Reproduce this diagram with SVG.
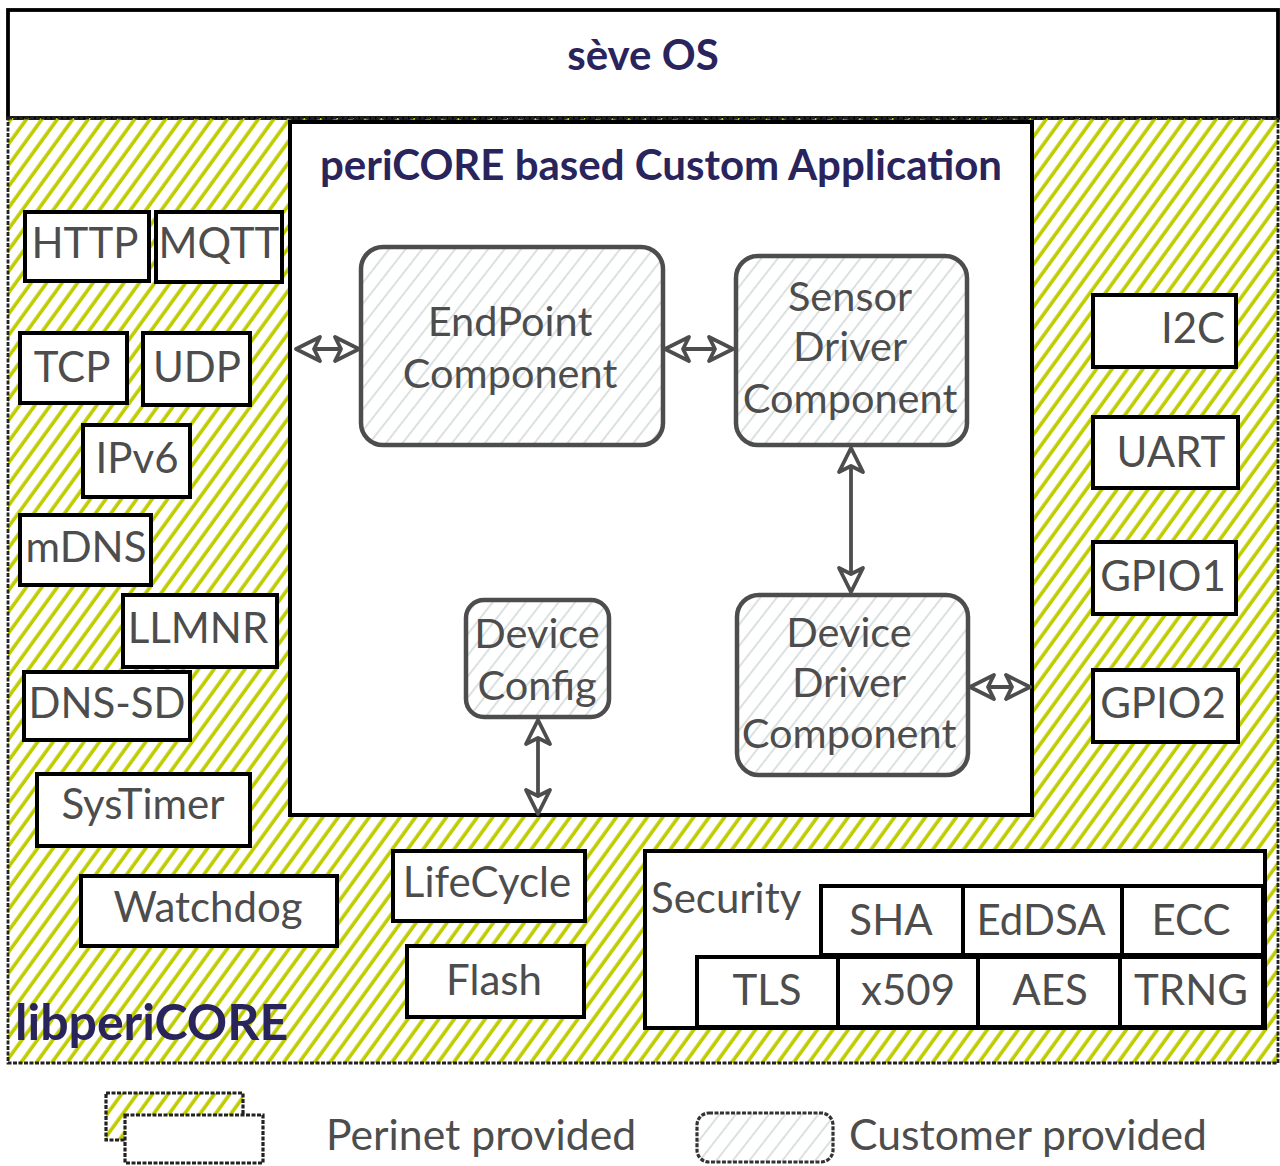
<svg xmlns="http://www.w3.org/2000/svg" width="1280" height="1166" viewBox="0 0 1280 1166">
<defs>
<pattern id="green" patternUnits="userSpaceOnUse" width="12.5" height="40" patternTransform="rotate(36)">
<line x1="4" y1="0" x2="4" y2="40" stroke="#bfcd00" stroke-width="3.6"/>
</pattern>
<pattern id="gray" patternUnits="userSpaceOnUse" width="13" height="40" patternTransform="rotate(38)">
<line x1="5" y1="0" x2="5" y2="40" stroke="#d5dcdc" stroke-width="1.7"/>
</pattern>
<marker id="ah" markerUnits="userSpaceOnUse" markerWidth="30" markerHeight="30" viewBox="0 0 30 30" refX="27" refY="15" orient="auto-start-reverse">
<path d="M3,3 L27,15 L3,27 L9,15 Z" fill="#fff" stroke="#4d4d4d" stroke-width="3.8" stroke-linejoin="round"/>
</marker>
<style>
.pb{fill:#fff;stroke:#000;stroke-width:4}
.cb{fill:url(#gray);stroke:#4d4d4d;stroke-width:4.5}
.lbl{font-family:Lato,"Liberation Sans",sans-serif;font-size:42px;fill:#4d4d4d;text-anchor:middle}
.cl{font-family:Lato,"Liberation Sans",sans-serif;font-size:41.5px;fill:#4d4d4d;text-anchor:middle}
.leg{font-family:Lato,"Liberation Sans",sans-serif;font-size:42.7px;fill:#4d4d4d}
.ttl{font-family:Lato,"Liberation Sans",sans-serif;font-weight:bold;fill:#2a245c}
.con{fill:none;stroke:#4d4d4d;stroke-width:3.8;marker-start:url(#ah);marker-end:url(#ah)}
</style>
</defs>
<rect width="1280" height="1166" fill="#fff"/>

<g id="seveos">
<rect x="8" y="10" width="1270" height="108" fill="#fff" stroke="#000" stroke-width="3.8"/>
<text class="ttl" x="643" y="70" font-size="42" text-anchor="middle">sève OS</text>
</g>

<g id="libpericore">
<rect x="8" y="118" width="1270" height="945" fill="url(#green)" stroke="#222" stroke-width="2.8" stroke-dasharray="4 1.5"/>
<text class="ttl" x="15" y="1040" font-size="50">libperiCORE</text>
</g>

<g id="app">
<rect x="290" y="122" width="742" height="693" fill="#fff" stroke="#000" stroke-width="4"/>
<text class="ttl" x="320" y="180" font-size="42">periCORE based Custom Application</text>
</g>

<g id="http"><rect class="pb" x="25" y="212" width="124" height="69"/><text class="lbl" x="85" y="258">HTTP</text></g>
<g id="mqtt"><rect class="pb" x="156" y="212" width="126" height="70"/><text class="lbl" x="219" y="258">MQTT</text></g>
<g id="tcp"><rect class="pb" x="20" y="333" width="107" height="70"/><text class="lbl" x="72" y="382">TCP</text></g>
<g id="udp"><rect class="pb" x="143" y="333" width="107" height="72"/><text class="lbl" x="197" y="382">UDP</text></g>
<g id="ipv6"><rect class="pb" x="83" y="425" width="107" height="72"/><text class="lbl" x="137" y="473">IPv6</text></g>
<g id="mdns"><rect class="pb" x="20" y="515" width="131" height="70"/><text class="lbl" x="86" y="562">mDNS</text></g>
<g id="llmnr"><rect class="pb" x="123" y="595" width="154" height="72"/><text class="lbl" x="198" y="643">LLMNR</text></g>
<g id="dnssd"><rect class="pb" x="24" y="672" width="166" height="68"/><text class="lbl" x="107" y="718">DNS-SD</text></g>
<g id="systimer"><rect class="pb" x="37" y="774" width="213" height="72"/><text class="lbl" x="143" y="819">SysTimer</text></g>
<g id="watchdog"><rect class="pb" x="81" y="876" width="256" height="70"/><text class="lbl" x="208" y="922">Watchdog</text></g>
<g id="lifecycle"><rect class="pb" x="393" y="851" width="192" height="70"/><text class="lbl" x="487" y="897">LifeCycle</text></g>
<g id="flash"><rect class="pb" x="407" y="946" width="177" height="71"/><text class="lbl" x="494" y="995">Flash</text></g>

<g id="security">
<rect class="pb" x="645" y="851" width="620" height="177"/>
<text class="lbl" x="651" y="913" style="text-anchor:start">Security</text>
</g>
<g id="sha"><rect class="pb" x="821" y="886" width="142" height="69"/><text class="lbl" x="891" y="935">SHA</text></g>
<g id="eddsa"><rect class="pb" x="963" y="886" width="159" height="69"/><text class="lbl" x="1041" y="935">EdDSA</text></g>
<g id="ecc"><rect class="pb" x="1122" y="886" width="141" height="69"/><text class="lbl" x="1191" y="935">ECC</text></g>
<g id="tls"><rect class="pb" x="697" y="957" width="141" height="70"/><text class="lbl" x="767" y="1005">TLS</text></g>
<g id="x509"><rect class="pb" x="838" y="957" width="140" height="70"/><text class="lbl" x="908" y="1005">x509</text></g>
<g id="aes"><rect class="pb" x="978" y="957" width="142" height="70"/><text class="lbl" x="1050" y="1005">AES</text></g>
<g id="trng"><rect class="pb" x="1120" y="957" width="143" height="70"/><text class="lbl" x="1191" y="1005">TRNG</text></g>

<g id="i2c"><rect class="pb" x="1093" y="295" width="143" height="72"/><text class="lbl" x="1193" y="343">I2C</text></g>
<g id="uart"><rect class="pb" x="1093" y="417" width="145" height="71"/><text class="lbl" x="1171" y="467">UART</text></g>
<g id="gpio1"><rect class="pb" x="1093" y="542" width="143" height="72"/><text class="lbl" x="1163" y="591">GPIO1</text></g>
<g id="gpio2"><rect class="pb" x="1093" y="670" width="145" height="72"/><text class="lbl" x="1163" y="718">GPIO2</text></g>

<g id="endpoint">
<rect class="cb" x="361" y="247" width="302" height="198" rx="22"/>
<text class="cl" x="510" y="336">EndPoint</text>
<text class="cl" x="510" y="388">Component</text>
</g>
<g id="sensor">
<rect class="cb" x="736" y="256" width="231" height="189" rx="22"/>
<text class="cl" x="850" y="311">Sensor</text>
<text class="cl" x="850" y="361">Driver</text>
<text class="cl" x="850" y="413">Component</text>
</g>
<g id="devdriver">
<rect class="cb" x="737" y="595" width="231" height="180" rx="22"/>
<text class="cl" x="849" y="647">Device</text>
<text class="cl" x="849" y="697">Driver</text>
<text class="cl" x="849" y="748">Component</text>
</g>
<g id="devconfig">
<rect class="cb" x="466" y="600" width="143" height="117" rx="18"/>
<text class="cl" x="537" y="648">Device</text>
<text class="cl" x="537" y="700">Config</text>
</g>

<g id="connectors">
<line class="con" x1="296" y1="349" x2="359" y2="349"/>
<line class="con" x1="665" y1="349" x2="733" y2="349"/>
<line class="con" x1="851" y1="448" x2="851" y2="592"/>
<line class="con" x1="970" y1="687" x2="1030" y2="687"/>
<line class="con" x1="538" y1="720" x2="538" y2="814"/>
</g>

<g id="legend">
<rect x="106" y="1093" width="137" height="47" fill="url(#green)" stroke="#222" stroke-width="3.2" stroke-dasharray="4 1.5"/>
<rect x="125" y="1115" width="138" height="48" fill="#fff" stroke="#222" stroke-width="3.2" stroke-dasharray="4 1.5"/>
<text class="leg" x="326" y="1150">Perinet provided</text>
<rect x="697" y="1113" width="136" height="49" rx="12" fill="url(#gray)" stroke="#333" stroke-width="3.2" stroke-dasharray="4 1.5"/>
<text class="leg" x="849" y="1150">Customer provided</text>
</g>
</svg>
